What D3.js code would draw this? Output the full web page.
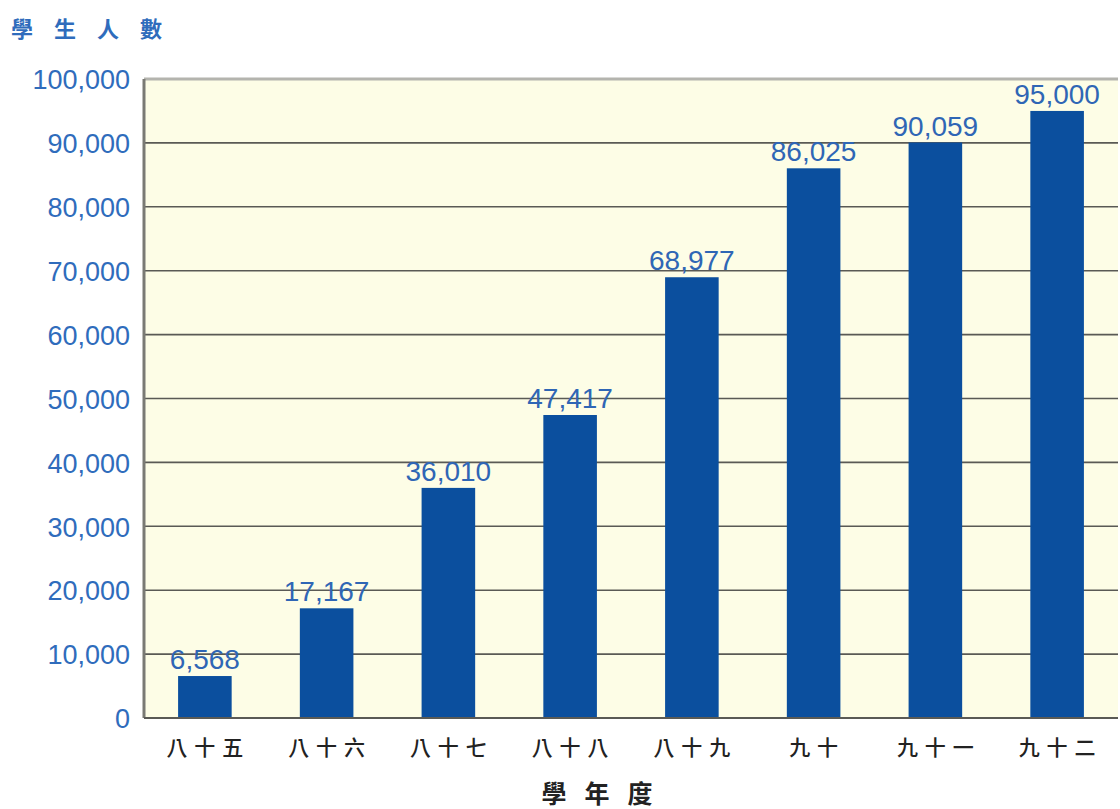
<!DOCTYPE html>
<meta charset="utf-8">
<style>
  body { margin: 0; background: #fff; }
  svg { display: block; }
  .tick-label { font-family: "Liberation Sans", Arial, sans-serif; font-size: 27px; fill: #2f6cbc; }
  .value-label { font-family: "Liberation Sans", Arial, sans-serif; font-size: 28px; fill: #2f66b5; }
  .cat-label { font-family: "Noto Sans CJK TC", sans-serif; font-size: 21px; font-weight: 500; fill: #222; }
  .title { font-family: "Noto Sans CJK TC", sans-serif; font-weight: bold; }
</style>
<body>
<script src="https://cdn.jsdelivr.net/npm/d3@7"></script>
<script>

// data
var years = ["八十五", "八十六", "八十七", "八十八", "八十九", "九十", "九十一", "九十二"];
var students = [6568, 17167, 36010, 47417, 68977, 86025, 90059, 95000];
var yTicks = [0, 10000, 20000, 30000, 40000, 50000, 60000, 70000, 80000, 90000, 100000];

var margin = {top: 79, right: 2, bottom: 91, left: 144};
var W = 1120, H = 809;
var width = W - margin.left - margin.right;
var height = H - margin.top - margin.bottom;

var svg = d3.select("body").append("svg")
    .attr("width", W)
    .attr("height", H);

var g = svg.append("g")
    .attr("transform", "translate(" + margin.left + "," + margin.top + ")");

var x = d3.scaleBand().domain(years).range([0, width]).paddingInner(0.56).paddingOuter(0.28);
var y = d3.scaleLinear().domain([0, 100000]).range([height, 0]);

// plot background
g.append("rect")
    .attr("width", width)
    .attr("height", height)
    .attr("fill", "#fdfde6");

// grid lines
g.selectAll(".grid").data(yTicks.slice(1, -1)).enter().append("line")
    .attr("x1", 0).attr("x2", width)
    .attr("y1", function(d) { return y(d); })
    .attr("y2", function(d) { return y(d); })
    .attr("stroke", "#5a5a55")
    .attr("stroke-width", 1.6);

// frame
g.append("line").attr("x1", 0).attr("x2", width).attr("y1", 0).attr("y2", 0)
    .attr("stroke", "#b4b4ae").attr("stroke-width", 3);
g.append("line").attr("x1", 0).attr("x2", 0).attr("y1", 0).attr("y2", height)
    .attr("stroke", "#7a7a74").attr("stroke-width", 3);

// bars
g.selectAll(".bar").data(students).enter().append("rect")
    .attr("x", function(d, i) { return x(years[i]); })
    .attr("width", x.bandwidth())
    .attr("y", function(d) { return y(d); })
    .attr("height", function(d) { return height - y(d); })
    .attr("fill", "#0b4f9e");

// base line
g.append("line").attr("x1", 0).attr("x2", width).attr("y1", height).attr("y2", height)
    .attr("stroke", "#5a5a55").attr("stroke-width", 2);

// value labels
var fmt = d3.format(",");
g.selectAll(".value-label").data(students).enter().append("text")
    .attr("class", "value-label")
    .attr("x", function(d, i) { return x(years[i]) + x.bandwidth() / 2; })
    .attr("y", function(d) { return y(d) - 7; })
    .attr("text-anchor", "middle")
    .text(function(d) { return fmt(d); });

// y axis
var yAxis = g.append("g")
    .call(d3.axisLeft(y).tickValues(yTicks).tickFormat(fmt).tickSize(0).tickPadding(14));
yAxis.select(".domain").remove();
yAxis.selectAll("text").attr("class", "tick-label").attr("dy", "0.36em")
    .attr("fill", null).attr("font-size", null).attr("font-family", null);

// x axis
var xAxis = g.append("g")
    .attr("transform", "translate(0," + height + ")")
    .call(d3.axisBottom(x).tickSize(0).tickPadding(22));
xAxis.select(".domain").remove();
xAxis.selectAll("text").attr("class", "cat-label").attr("letter-spacing", 7)
    .attr("fill", null).attr("font-size", null).attr("font-family", null)
    .attr("dx", 3.5);

// titles
svg.append("text")
    .attr("class", "title")
    .attr("x", 11).attr("y", 37)
    .attr("font-size", 22)
    .attr("letter-spacing", 21)
    .attr("fill", "#2f6cbc")
    .text("學生人數");

svg.append("text")
    .attr("class", "title")
    .attr("x", 606).attr("y", 803)
    .attr("text-anchor", "middle")
    .attr("font-size", 25)
    .attr("letter-spacing", 18)
    .attr("fill", "#222")
    .text("學年度");

</script>
</body>
